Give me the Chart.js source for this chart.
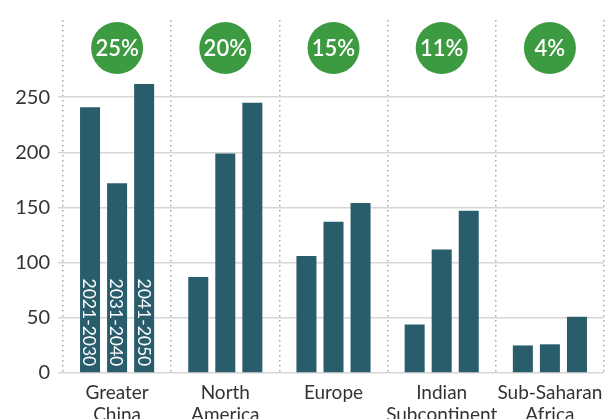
<!DOCTYPE html>
<html>
<head>
<meta charset="utf-8">
<script src="https://cdn.jsdelivr.net/npm/chart.js@4"></script>
<style>
  html, body { margin: 0; padding: 0; background: #fff; }
  #wrap { width: 615px; height: 419px; }
</style>
</head>
<body>
<div id="wrap"><canvas id="barChart"></canvas></div>
<script>
const regions = [["Greater", "China"], ["North", "America"], "Europe", ["Indian", "Subcontinent"], ["Sub-Saharan", "Africa"]];
const decades = ["2021-2030", "2031-2040", "2041-2050"];
const d2021 = [241, 87, 106, 44, 25];
const d2031 = [172, 199, 137, 112, 26];
const d2041 = [262, 245, 154, 147, 51];
const shares = ["25%", "20%", "15%", "11%", "4%"];

const barColor = "#295d6c";
const font = "Lato, 'Noto Sans', sans-serif";

// green share bubbles above each group + decade names inside first group
const annotate = {
    id: "annotate",
    afterDatasetsDraw(chart) {
        const c = chart.ctx;
        const x = chart.scales.x;
        c.save();
        shares.forEach((s, i) => {
            const cx = x.getPixelForValue(i);
            const cy = chart.chartArea.top + 28;
            c.beginPath();
            c.arc(cx, cy, 26, 0, Math.PI * 2);
            c.fillStyle = "#3c9b40";
            c.fill();
            c.fillStyle = "#fff";
            c.font = "600 22px " + font;
            c.textAlign = "center";
            c.textBaseline = "middle";
            c.fillText(s, cx, cy + 1);
        });
        decades.forEach((d, i) => {
            const bar = chart.getDatasetMeta(i).data[0];
            c.save();
            c.translate(bar.x, bar.base - 6);
            c.rotate(Math.PI / 2);
            c.font = "17.5px " + font;
            c.fillStyle = "#fff";
            c.textAlign = "right";
            c.textBaseline = "middle";
            c.fillText(d, 0, 1);
            c.restore();
        });
        c.restore();
    }
};

const ctx = document.getElementById("barChart").getContext("2d");

new Chart(ctx, {
    type: "bar",
    data: {
        labels: regions,
        datasets: [
            { label: decades[0], data: d2021 },
            { label: decades[1], data: d2031 },
            { label: decades[2], data: d2041 }
        ].map(ds => Object.assign(ds, {
            backgroundColor: barColor,
            categoryPercentage: 0.75,
            barPercentage: 0.74
        }))
    },
    options: {
        responsive: true,
        maintainAspectRatio: false,
        animation: false,
        layout: { padding: { top: 15, right: 11, left: 0, bottom: 0 } },
        plugins: {
            legend: { display: false },
            tooltip: { enabled: false }
        },
        scales: {
            x: {
                grid: {
                    offset: true,
                    drawTicks: false,
                    color: "#a8a8a8",
                    lineWidth: 1.5
                },
                border: { display: false, dash: [1.5, 3.5] },
                ticks: {
                    color: "#333",
                    font: { family: font, size: 19 },
                    padding: 8,
                    maxRotation: 0,
                    minRotation: 0,
                    autoSkip: false
                },
                afterFit: s => { s.height = 46; }
            },
            y: {
                min: 0,
                max: 320,
                border: { display: false },
                grid: { color: "#d6d6d6", lineWidth: 1.5, tickLength: 5 },
                ticks: { stepSize: 50, color: "#333", font: { family: font, size: 20 }, padding: 8 },
                afterBuildTicks: s => { s.ticks = s.ticks.filter(t => t.value <= 250); },
                afterFit: s => { s.width = 63; }
            }
        }
    },
    plugins: [annotate]
});
</script>
</body>
</html>
